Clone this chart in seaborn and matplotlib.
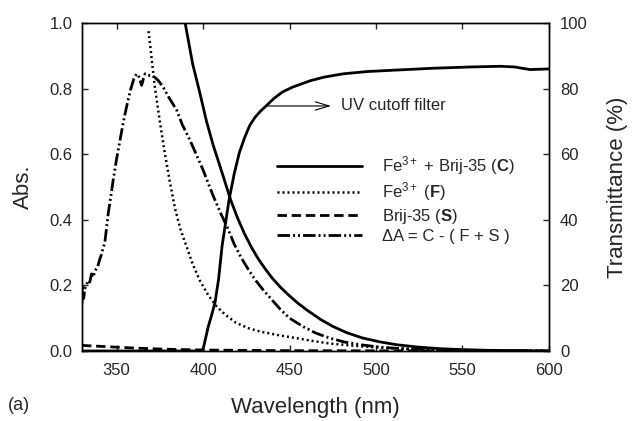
import matplotlib
matplotlib.use("Agg")
import matplotlib.pyplot as plt
import seaborn as sns

# ---------------- data ----------------
c_wl = [388, 390, 394, 398, 402, 406, 410, 416, 420, 424, 428, 432, 436, 440, 445,
        450, 455, 460, 468, 475, 483, 492, 502, 512, 524, 537, 550, 565, 580, 600]
c_abs = [1.05, 0.99, 0.875, 0.79, 0.70, 0.625, 0.56, 0.46, 0.405, 0.357, 0.316, 0.28, 0.25, 0.222, 0.193,
         0.168, 0.145, 0.125, 0.096, 0.075, 0.056, 0.04, 0.028, 0.019, 0.012, 0.007, 0.004, 0.002, 0.001, 0.0]

f_wl = [368.5, 370, 372, 375, 378, 381, 384, 387, 390.5, 394, 398, 403, 408, 413, 419, 426,
        433, 444, 454, 464, 473, 485, 497, 510, 525, 540, 560, 580, 600]
f_abs = [0.975, 0.905, 0.81, 0.70, 0.60, 0.51, 0.43, 0.37, 0.318, 0.265, 0.216, 0.17, 0.135, 0.11, 0.086, 0.07,
         0.059, 0.048, 0.039, 0.03, 0.023, 0.017, 0.012, 0.008, 0.005, 0.003, 0.002, 0.001, 0.0]

s_wl = [330, 345, 360, 375, 390, 400, 420, 450, 500, 600]
s_abs = [0.017, 0.013, 0.009, 0.006, 0.004, 0.003, 0.002, 0.001, 0.0005, 0.0]

d_wl = [330, 330.4, 331, 331.6, 332.5, 333.5, 334.5, 335.5, 336.5, 337.5, 339, 340, 341, 342.3, 343.2,
        344.2, 345.2, 346.5, 348, 350, 352, 354, 356, 358, 360, 361.6, 363, 364.5, 365.5, 366.5,
        368, 370, 372, 374, 376.8, 380, 384.7, 388, 392.4, 396, 400, 405.7, 410, 414.6, 418,
        422, 426, 430, 434.8, 440, 444.5, 450, 458, 465, 473.4, 482, 492.6, 502, 512, 525,
        540, 560, 580, 600]
d_abs = [0.145, 0.2, 0.16, 0.19, 0.2, 0.215, 0.21, 0.235, 0.225, 0.245, 0.255, 0.275, 0.29, 0.315, 0.33,
         0.375, 0.42, 0.465, 0.52, 0.585, 0.643, 0.70, 0.75, 0.795, 0.83, 0.845, 0.835, 0.81, 0.83, 0.845,
         0.84, 0.84, 0.835, 0.825, 0.806, 0.775, 0.735, 0.69, 0.643, 0.60, 0.552, 0.475, 0.422, 0.37, 0.326,
         0.285, 0.25, 0.218, 0.186, 0.155, 0.128, 0.10, 0.074, 0.055, 0.039, 0.027, 0.018, 0.012, 0.008, 0.005,
         0.003, 0.002, 0.001, 0.0]

t_wl = [330, 398, 400, 403, 405, 407, 409, 411, 413, 415, 418, 421, 424, 427, 430, 433, 437, 441, 446,
        452, 462, 470, 481, 495, 510, 533, 555, 572, 580, 589, 600]
t_pct = [0, 0, 0.5, 7.4, 11, 15, 22, 32, 39, 46, 54, 60.5, 65, 68.8, 71.2, 73, 75, 77, 79,
         80.5, 82.4, 83.5, 84.5, 85.2, 85.6, 86.2, 86.6, 86.8, 86.6, 85.8, 86.0]

labels = ['Fe$^{3+}$ + Brij-35 ($\\mathbf{C}$)',
          'Fe$^{3+}$ ($\\mathbf{F}$)',
          'Brij-35 ($\\mathbf{S}$)',
          '\u0394A = C - ( F + S )']

# ---------------- style ----------------
sns.set_style("ticks")
plt.rcParams['font.family'] = ['Liberation Sans', 'DejaVu Sans']
plt.rcParams['mathtext.fontset'] = 'custom'
plt.rcParams['mathtext.rm'] = 'Liberation Sans'
plt.rcParams['mathtext.it'] = 'Liberation Sans:italic'
plt.rcParams['mathtext.bf'] = 'Liberation Sans:bold'

fig = plt.figure(figsize=(6.34, 4.21), dpi=100)
ax = fig.add_axes([0.1293, 0.1663, 0.7366, 0.7791])

lw = 2.0
sns.lineplot(x=c_wl, y=c_abs, ax=ax, color='black', linewidth=lw, label=labels[0])
sns.lineplot(x=f_wl, y=f_abs, ax=ax, color='black', linewidth=1.8,
             linestyle=(0, (0.8, 1.2)), label=labels[1])
sns.lineplot(x=s_wl, y=s_abs, ax=ax, color='black', linewidth=lw,
             linestyle=(0, (3.4, 1.7)), label=labels[2])
sns.lineplot(x=d_wl, y=d_abs, ax=ax, color='black', linewidth=lw,
             linestyle=(0, (4.5, 1.1, 0.7, 1.1, 0.7, 1.1)), label=labels[3])

ax.set_xlim(330, 600)
ax.set_ylim(0, 1.0)
ax.set_xticks([350, 400, 450, 500, 550, 600])
ax.set_yticks([0, 0.2, 0.4, 0.6, 0.8, 1.0])
ax.set_yticklabels(['0.0', '0.2', '0.4', '0.6', '0.8', '1.0'])
ax.tick_params(axis='both', direction='in', length=4, width=1, labelsize=12, top=True, right=False)
ax.tick_params(axis='x', pad=9)
ax.tick_params(axis='y', pad=7)
ax.set_xlabel('Wavelength (nm)', fontsize=16, labelpad=13)
ax.set_ylabel('Abs.', fontsize=16, labelpad=11)

ax2 = ax.twinx()
sns.lineplot(x=t_wl, y=t_pct, ax=ax2, color='black', linewidth=lw)
ax2.set_ylim(0, 100)
ax2.set_yticks([0, 20, 40, 60, 80, 100])
ax2.tick_params(axis='y', direction='in', length=4, width=1, labelsize=12, pad=8)
ax2.set_ylabel('Transmittance (%)', fontsize=16, labelpad=14)
ax2.set_xlim(330, 600)

for a in (ax, ax2):
    for sp in a.spines.values():
        sp.set_linewidth(1.0)
        sp.set_color('black')
        sp.set_visible(True)

ax2.annotate('', xy=(474, 74.7), xytext=(436.8, 74.7),
             arrowprops=dict(arrowstyle='->, head_length=1.0, head_width=0.3', lw=0.8, color='black',
                             shrinkA=0, shrinkB=0))
ax2.text(479.5, 74.7, 'UV cutoff filter', fontsize=12, va='center', ha='left')

h, l = ax.get_legend_handles_labels()
ax.legend(h, l, loc='upper left', bbox_to_anchor=(0.4176, 0.60), frameon=False,
          fontsize=12, handlelength=5.1, handletextpad=1.2, labelspacing=0.2,
          borderpad=0, borderaxespad=0)
if ax2.get_legend() is not None:
    ax2.get_legend().remove()

fig.text(0.013, 0.025, '(a)', fontsize=13)

fig.savefig('out.png', dpi=100)
